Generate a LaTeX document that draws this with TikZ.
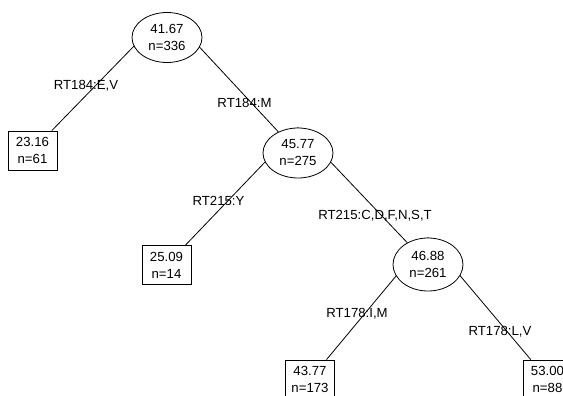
\documentclass[tikz,border=0pt]{standalone}
\usepackage{fontspec}
\setmainfont{Liberation Sans}
\usetikzlibrary{shapes.geometric,backgrounds}
\begin{document}
\begin{tikzpicture}[x=1pt,y=-1pt,
  every node/.style={font=\fontsize{13.2}{17}\selectfont},
  inner/.style={ellipse,draw,fill=white,line width=0.8pt,minimum width=70pt,minimum height=50pt,inner sep=0pt,align=center},
  leaf/.style={rectangle,draw,fill=white,line width=0.8pt,minimum width=49pt,minimum height=39pt,inner sep=0pt,align=center},
  lab/.style={inner sep=0pt},
  edge/.style={line width=0.8pt}]
\useasboundingbox (0,0) rectangle (563,396);
\clip (0,0) rectangle (563,396);
\node[inner] (root) at (167,37.5) {41.67\\n=336};
\node[leaf] (l1) at (32.5,150.5) {23.16\\n=61};
\node[inner] (n2) at (298,153) {45.77\\n=275};
\node[leaf] (l2) at (166.5,265) {25.09\\n=14};
\node[inner, minimum height=53pt] (n3) at (428,264.5) {46.88\\n=261};
\node[leaf] (l3) at (310,379.5) {43.77\\n=173};
\node[leaf] (l4) at (547.5,379.5) {53.00\\n=88};
\begin{pgfonlayer}{background}
\draw[edge] (root.north) -- (l1);
\draw[edge] (root.north) -- (n2);
\draw[edge] (n2.north) -- (l2);
\draw[edge] (n2.north) -- (n3);
\draw[edge] (n3.north) -- (l3);
\draw[edge] (n3.north) -- (l4);
\end{pgfonlayer}
\node[lab] (e1) at (86,86) {RT184:E,V};
\node[lab] (e2) at (244.5,103) {RT184:M};
\node[lab] (e3) at (218.5,201) {RT215:Y};
\node[lab] (e4) at (375,216) {RT215:C,D,F,N,S,T};
\node[lab] (e5) at (357,314) {RT178:I,M};
\node[lab] (e6) at (500,332) {RT178:L,V};
\end{tikzpicture}
\end{document}
